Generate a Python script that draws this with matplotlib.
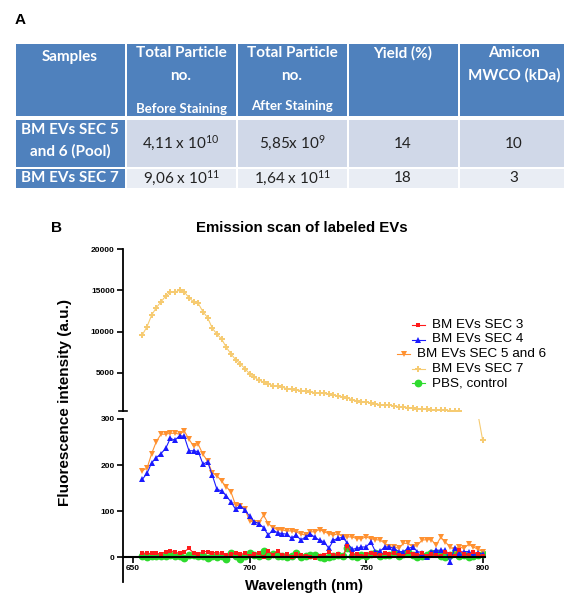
import numpy as np
import matplotlib
matplotlib.use('Agg')
import matplotlib.pyplot as plt
from matplotlib.patches import Rectangle
from matplotlib.lines import Line2D

plt.rcParams['font.family'] = ['Liberation Sans', 'DejaVu Sans']
plt.rcParams['mathtext.default'] = 'regular'

# --- panel A table ---
header_main = ["Samples", "Total Particle\nno.", "Total Particle\nno.", "Yield (%)", "Amicon\nMWCO (kDa)"]
header_sub = ["", "Before Staining", "After Staining", "", ""]
sample_names = ["BM EVs SEC 5\nand 6 (Pool)", "BM EVs SEC 7"]
before_staining = ["4,11 x 10$^{10}$", "9,06 x 10$^{11}$"]
after_staining = ["5,85x 10$^{9}$", "1,64 x 10$^{11}$"]
yield_pct = ["14", "18"]
mwco = ["10", "3"]

# --- panel B emission scan ---
wavelength = np.arange(654, 801, 2)
sec3 = [9, 8, 8, 8, 7, 12, 14, 11, 8, 12, 19, 9, 7, 12, 12, 10, 10, 8, 4, 6, 9, 6, 8,
        3, 6, 9, 0, 14, 4, 14, 4, 6, 0, 6,
        4, 2, 0, -2, 2, 4, 11, 4, 6, 2,
        24, 6, 6, 2, 6, 10, 6, 4, 8, 6,
        10, 4, 2, 12, 6, 4, 8, 2, 6, 4,
        3, 12, 6, 2, 16, 6, 4, 12, 6, 2]
sec4 = [169, 182, 205, 216, 225, 236, 258, 254, 264, 262, 231, 231, 229, 202, 207, 178, 147, 144, 133, 120, 104, 112, 102,
        89, 77, 73, 64, 48, 59, 53, 51, 50, 41, 48,
        37, 44, 51, 43, 37, 33, 19, 37, 41, 43,
        30, 17, 19, 22, 22, 33, 12, 13, 22, 22,
        19, 12, 12, 19, 22, 12, 10, 0, 12, 15,
        15, 15, -10, 19, 10, 12, 12, 4, 10, 6]
sec56 = [188, 193, 225, 251, 267, 267, 269, 269, 267, 274, 256, 241, 245, 223, 209, 183, 177, 165, 153, 142, 113, 111, 104,
         79, 75, 75, 91, 73, 64, 60, 59, 57, 57, 55,
         50, 48, 55, 55, 60, 55, 51, 48, 51, 44,
         44, 44, 40, 40, 44, 40, 38, 37, 30, 22,
         22, 19, 30, 30, 22, 26, 37, 38, 38, 26,
         43, 33, 22, 15, 22, 19, 28, 22, 17, 12]
sec7 = [9600, 10600, 12000, 12900, 13600, 14300, 14800, 14800, 15000, 14800, 14100, 13600, 13400, 12400, 11700, 10400,
        9700, 9100, 8100, 7300, 6600, 6100, 5500,
        4900, 4500, 4100, 3900, 3700, 3450, 3350, 3250, 3100, 3000, 2950,
        2850, 2800, 2700, 2600, 2550, 2500, 2400, 2300, 2150, 2050,
        1970, 1770, 1610, 1520, 1450, 1360, 1240, 1160, 1120, 1080,
        1000, 915, 880, 795, 720, 675, 635, 600, 555, 515,
        500, 480, 430, 410, 395, 340, 330, 320, 310, 254]
pbs = [2, 0, 2, 3, 2, 3, 4, 3, 2, -1, 4, 5, 2, 3, -2, 2, 0, 2, -5, 8, 3, -4, 2,
       10, 5, 2, 14, 2, 6, 2, 3, 0, 2, 8,
       0, 2, 4, 4, 0, -2, 0, 2, 4, 3,
       20, 2, 0, 4, 3, 6, 8, 2, 4, 5,
       8, 2, 6, 12, 4, 0, 2, 4, 9, 8,
       2, 0, 4, 8, 2, 4, 0, 2, 4, 6]

labels = ["BM EVs SEC 3", "BM EVs SEC 4", "BM EVs SEC 5 and 6", "BM EVs SEC 7", "PBS, control"]
colors = ["#FF1A1A", "#1A1AFF", "#FF9130", "#F6CB72", "#2EDB2E"]
markers = ["s", "^", "v", "P", "o"]
msizes = [3.0, 3.8, 3.8, 4.4, 5.6]
series = [sec3, sec4, sec56, sec7, pbs]
draw_order = [4, 2, 1, 0, 3]

lo_range = (-54, 300)
hi_range = (380, 20000)

W, H = 564, 594
fig = plt.figure(figsize=(W / 100, H / 100), dpi=100)

bg = fig.add_axes([0, 0, 1, 1])
bg.set_xlim(0, W)
bg.set_ylim(H, 0)
bg.axis('off')

blue = "#4F81BD"
row_cols = ["#D0D8E8", "#E9EDF4"]
col_x = [14.5, 125.5, 236.5, 347.5, 458.5, 569.5]
row_y = [(44, 116), (120, 167), (169, 188)]
tfont = ['Lato', 'DejaVu Sans']

bg.text(15, 20, "A", fontsize=11, fontweight='bold', ha='left', va='center')

for j in range(5):
    x0, x1 = col_x[j] + 1, col_x[j + 1] - 1
    y0, y1 = row_y[0]
    bg.add_patch(Rectangle((x0, y0), x1 - x0, y1 - y0, color=blue, lw=0))
    cx = (x0 + x1) / 2
    lines = header_main[j].split("\n")
    ystart = 57 if j == 0 else 53
    for k, ln in enumerate(lines):
        bg.text(cx, ystart + 22.5 * k, ln, family=tfont, fontsize=11, fontweight='bold',
                color='white', ha='center', va='center')
    if header_sub[j]:
        bg.text(cx, 109 if j == 1 else 106, header_sub[j], family=tfont, fontsize=9.5,
                fontweight='bold', color='white', ha='center', va='center')

for i in range(2):
    y0, y1 = row_y[i + 1]
    cy = (y0 + y1) / 2
    cells = [sample_names[i], before_staining[i], after_staining[i], yield_pct[i], mwco[i]]
    for j in range(5):
        x0, x1 = col_x[j] + 1, col_x[j + 1] - 1
        bg.add_patch(Rectangle((x0, y0), x1 - x0, y1 - y0, color=blue if j == 0 else row_cols[i], lw=0))
        cx = (x0 + x1) / 2
        if j == 0:
            lines = cells[j].split("\n")
            ys = [130, 151] if len(lines) == 2 else [cy]
            for ln, yy in zip(lines, ys):
                bg.text(cx, yy, ln, family=tfont, fontsize=11, fontweight='bold',
                        color='white', ha='center', va='center')
        else:
            bg.text(cx, cy, cells[j], family=tfont, fontsize=11, color='#222222',
                    ha='center', va='center')

# --- panel B ---
bg.text(56, 228, "B", fontsize=11, fontweight='bold', ha='center', va='center')
bg.text(302, 228, "Emission scan of labeled EVs", fontsize=10.8, fontweight='bold',
        ha='center', va='center')
bg.text(65, 403, "Fluorescence intensity (a.u.)", fontsize=11, fontweight='bold',
        rotation=90, ha='center', va='center')
bg.text(304, 586, "Wavelength (nm)", fontsize=10.6, fontweight='bold', ha='center', va='center')

ax_lo = fig.add_axes([123 / W, 1 - 582 / H, 362 / W, 163 / H])
ax_hi = fig.add_axes([123 / W, 1 - 411 / H, 362 / W, 162 / H])

for idx in draw_order:
    ax_lo.plot(wavelength, series[idx], color=colors[idx], marker=markers[idx],
               markersize=msizes[idx], markeredgewidth=0, lw=0.8)
# upper segment: points that fall in the axis break are not drawn
sec7_hi = np.array(sec7, dtype=float)
sec7_hi[sec7_hi < hi_range[0]] = np.nan
ax_hi.plot(wavelength, sec7_hi, color=colors[3], marker=markers[3],
           markersize=msizes[3], markeredgewidth=0, lw=0.8)

for ax in (ax_lo, ax_hi):
    ax.set_facecolor('none')
    ax.set_xlim(645.7, 801)
    ax.spines['top'].set_visible(False)
    ax.spines['right'].set_visible(False)
    ax.spines['left'].set_linewidth(1.3)
    ax.tick_params(direction='out', length=4, width=1.2, labelsize=6, pad=2)

ax_lo.set_ylim(*lo_range)
ax_lo.spines['bottom'].set_position(('data', 0))
ax_lo.spines['bottom'].set_linewidth(1.5)
ax_lo.set_xticks([650, 700, 750, 800])
ax_lo.set_yticks([0, 100, 200, 300])

ax_hi.set_ylim(*hi_range)
ax_hi.spines['bottom'].set_visible(False)
ax_hi.set_xticks([])
ax_hi.set_yticks([5000, 10000, 15000, 20000])

for ax in (ax_lo, ax_hi):
    for lab in ax.get_xticklabels() + ax.get_yticklabels():
        lab.set_fontweight('bold')

# small cap where the upper y segment ends
bg.add_line(Line2D([119, 127], [410.5, 410.5], color='black', lw=1.2))

legend_y = [325, 339.5, 354, 368.5, 383]
legend_tx = [431.5, 431.5, 417, 431.5, 431.5]
for k in range(5):
    tx = legend_tx[k]
    bg.add_line(Line2D([tx - 20, tx - 7], [legend_y[k]] * 2, color=colors[k], lw=0.8))
    bg.add_line(Line2D([tx - 13.5], [legend_y[k]], color=colors[k], marker=markers[k],
                       markersize=msizes[k], markeredgewidth=0))
    bg.text(tx, legend_y[k], labels[k], fontsize=9.7, ha='left', va='center')

fig.savefig('out.png', dpi=100)
